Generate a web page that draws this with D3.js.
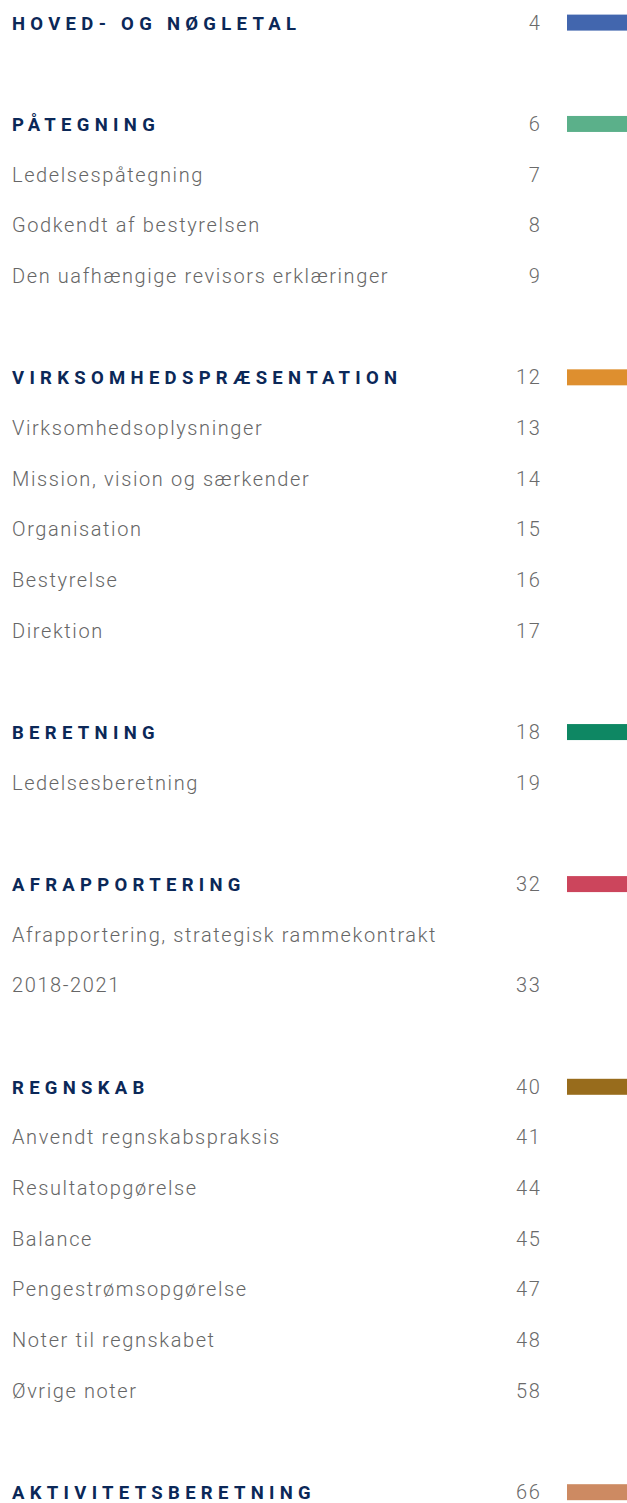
<!DOCTYPE html>
<html><head><meta charset="utf-8">
<script src="https://cdn.jsdelivr.net/npm/d3@7"></script>
<style>
html,body{margin:0;padding:0;background:#fff;}
svg{display:block;}
</style></head>
<body>
<script>
// Section headings, their page numbers and colour tabs
const sections = ["HOVED- OG NØGLETAL","PÅTEGNING","VIRKSOMHEDSPRÆSENTATION","BERETNING","AFRAPPORTERING","REGNSKAB","AKTIVITETSBERETNING"];
const sectionPages = [4,6,12,18,32,40,66];
const sectionColors = ["#4266ae","#5bb08a","#de8f2f","#0e8763","#cc455c","#986c1c","#cd8a62"];
// Sub entries per section
const entries = [
  [],
  [["Ledelsespåtegning","7"],["Godkendt af bestyrelsen","8"],["Den uafhængige revisors erklæringer","9"]],
  [["Virksomhedsoplysninger","13"],["Mission, vision og særkender","14"],["Organisation","15"],["Bestyrelse","16"],["Direktion","17"]],
  [["Ledelsesberetning","19"]],
  [["Afrapportering, strategisk rammekontrakt",""],["2018-2021","33"]],
  [["Anvendt regnskabspraksis","41"],["Resultatopgørelse","44"],["Balance","45"],["Pengestrømsopgørelse","47"],["Noter til regnskabet","48"],["Øvrige noter","58"]],
  []
];

const W = 627, H = 1503;
// Build rows: heading, entries, blank spacer
const rows = [];
sections.forEach((s,i)=>{
  rows.push({type:"head", text:s, page:String(sectionPages[i]), color:sectionColors[i]});
  entries[i].forEach(e=>rows.push({type:"entry", text:e[0], page:e[1]}));
  if (i < sections.length-1) rows.push({type:"blank"});
});
rows.forEach((r,i)=>r.idx=i);

const y = d3.scaleLinear().domain([0, rows.length-1]).range([22.6, 1492.2]);
const xText = 12, xPage = 541.5, xBar = 567, barW = 60, barH = 16;

const svg = d3.select("body").append("svg").attr("width",W).attr("height",H);

const g = svg.selectAll("g.row").data(rows.filter(r=>r.type!=="blank")).enter()
  .append("g").attr("class","row").attr("transform",d=>`translate(0,${y(d.idx)})`);

g.append("text")
  .attr("x",xText).attr("y",7)
  .text(d=>d.text)
  .attr("font-family","Roboto, 'DejaVu Sans', sans-serif")
  .attr("font-size",d=>d.type==="head"?18.5:20)
  .attr("font-weight",d=>d.type==="head"?700:300)
  .attr("letter-spacing",d=>d.type==="head"?5.3:1.6)
  .attr("fill",d=>d.type==="head"?"#0b2858":"#666");

g.append("text")
  .attr("x",xPage).attr("y",7)
  .attr("text-anchor","end")
  .text(d=>d.page)
  .attr("font-family","Roboto, 'DejaVu Sans', sans-serif")
  .attr("font-size",20).attr("font-weight",300)
  .attr("letter-spacing",1.6)
  .attr("fill","#6a6a6a");

g.filter(d=>d.type==="head").append("rect")
  .attr("x",xBar).attr("y",-barH/2).attr("width",barW).attr("height",barH)
  .attr("fill",d=>d.color);
</script>
</body></html>
